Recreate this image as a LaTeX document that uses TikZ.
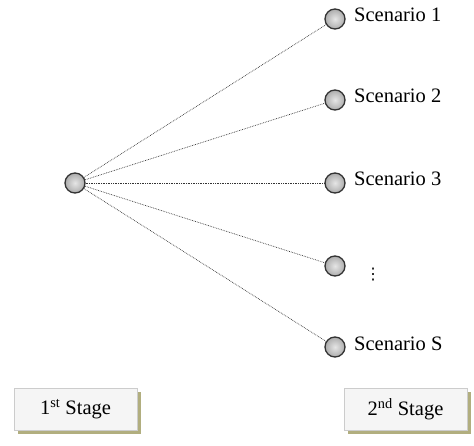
\documentclass[tikz,border=0pt]{standalone}
\usepackage{fontspec}
\setmainfont{Liberation Serif}
\newfontfamily\dotsfont{DejaVu Sans}
\usetikzlibrary{shadows}
\begin{document}
\begin{tikzpicture}[x=1pt,y=1pt,
  ballnode/.style={circle, minimum size=20pt, inner sep=0pt, shading=radial, inner color=gray!20, outer color=gray!65, draw=gray!40!black, line width=1.3pt},
  link/.style={densely dotted, draw=gray!40!black, line width=0.7pt},
  lbl/.style={anchor=base west, inner sep=0pt, font=\fontsize{20.5}{24}\selectfont},
  stagebox/.style={draw=gray!40, fill=gray!8, minimum width=123pt, minimum height=42pt, inner sep=0pt, font=\fontsize{20.5}{24}\selectfont, drop shadow={shadow xshift=4pt, shadow yshift=-4pt, fill=olive!40!gray!70, opacity=1}}
]
\useasboundingbox (0,0) rectangle (474,445);
\node[ballnode] (root) at (75,262) {};
\node[ballnode] (s1) at (335,426) {};
\node[ballnode] (s2) at (335,345) {};
\node[ballnode] (s3) at (335,262) {};
\node[ballnode] (s4) at (335,179) {};
\node[ballnode] (s5) at (335,98) {};
\foreach \n in {s1,s2,s3,s4,s5} \draw[link] (root) -- (\n);
\node[lbl] (t1) at (354,423) {Scenario 1};
\node[lbl] (t2) at (354,342) {Scenario 2};
\node[lbl] (t3) at (354,259) {Scenario 3};
\node[font=\dotsfont\fontsize{16}{18}\selectfont, inner sep=0pt] (t4) at (373,170) {⋮};
\node[lbl] (t5) at (354,95) {Scenario S};
\node[stagebox] (b1) at (75.5,36) {1\textsuperscript{st} Stage};
\node[stagebox] (b2) at (405.5,36) {2\textsuperscript{nd} Stage};
\end{tikzpicture}
\end{document}
